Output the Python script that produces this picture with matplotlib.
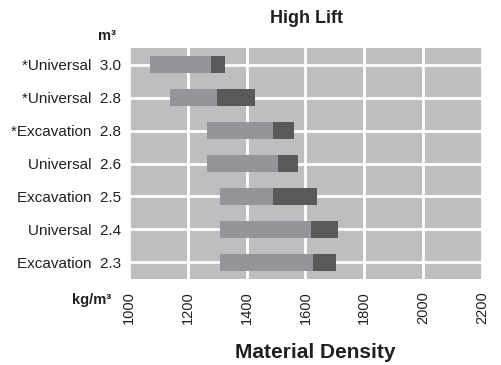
import matplotlib
matplotlib.use("Agg")
import matplotlib.pyplot as plt
import numpy as np

plt.rcParams['font.family'] = ['Liberation Sans', 'DejaVu Sans']

# data (kg/m3)
labels = ["*Universal  3.0", "*Universal  2.8", "*Excavation  2.8", "Universal  2.6",
          "Excavation  2.5", "Universal  2.4", "Excavation  2.3"]
low = [1070, 1140, 1265, 1265, 1310, 1310, 1310]
mid = [1280, 1300, 1490, 1505, 1490, 1620, 1625]
high = [1325, 1430, 1560, 1575, 1640, 1710, 1705]
xticks = [1000, 1200, 1400, 1600, 1800, 2000, 2200]

fig = plt.figure(figsize=(5.02, 3.65), dpi=100)
ax = fig.add_axes([0.257, 0.236, 0.703, 0.632])
ax.set_facecolor('#bdbec0')

y = np.arange(len(labels))
low = np.array(low)
mid = np.array(mid)
high = np.array(high)
ax.barh(y, mid - low, left=low, height=0.53, color='#939598', zorder=3)
ax.barh(y, high - mid, left=mid, height=0.53, color='#58595b', zorder=3)

ax.set_xlim(1000, 2200)
ax.set_ylim(len(labels) - 0.5, -0.5)
ax.set_xticks(xticks)
ax.set_xticklabels([str(t) for t in xticks], rotation=90, fontsize=10.5, color='#231f20')
ax.set_yticks(y)
ax.set_yticklabels(labels, fontsize=11, color='#231f20')
ax.tick_params(length=0)
ax.tick_params(axis='x', pad=9)
ax.tick_params(axis='y', pad=6)
ax.grid(True, color='white', linewidth=2)
ax.set_axisbelow(True)
for s in ax.spines.values():
    s.set_visible(False)

fig.text(0.61, 0.948, "High Lift", fontsize=13, fontweight='bold', ha='center', va='center', color='#231f20')
fig.text(0.232, 0.9, "m³", fontsize=10.5, fontweight='bold', ha='right', va='center', color='#231f20')
fig.text(0.222, 0.178, "kg/m³", fontsize=10.5, fontweight='bold', ha='right', va='center', color='#231f20')
fig.text(0.627, 0.033, "Material Density", fontsize=15, fontweight='bold', ha='center', va='center', color='#231f20')

fig.savefig("out.png", dpi=100)
